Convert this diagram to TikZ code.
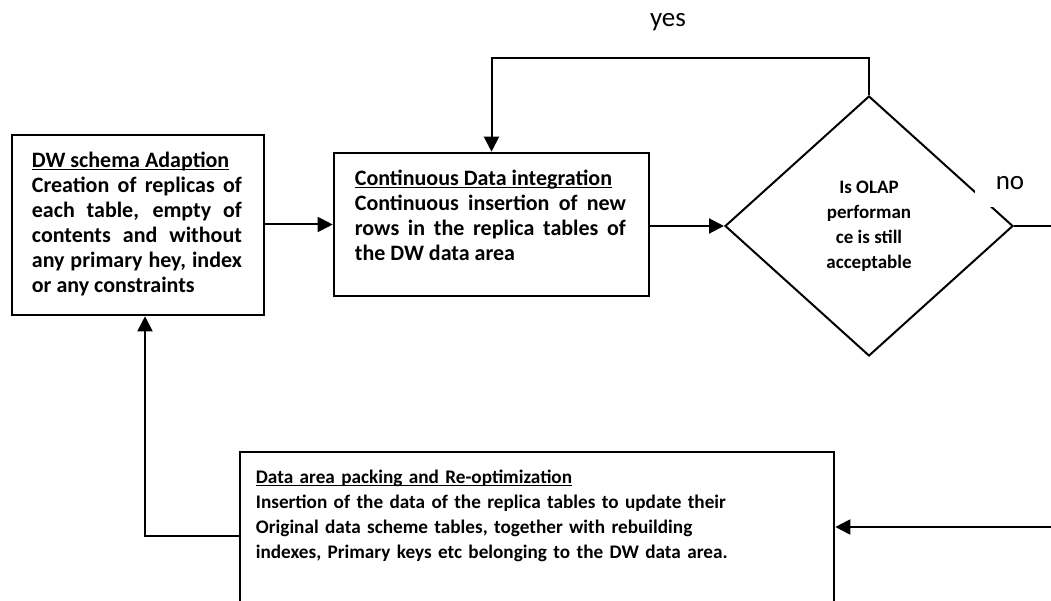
\documentclass[tikz,border=0pt]{standalone}
\usepackage{fontspec}
\setmainfont{Carlito}
\usetikzlibrary{shapes.geometric,arrows.meta}

\newcommand{\ulined}[1]{\setbox0\hbox{#1}\rlap{\rule[-3pt]{\wd0}{1.6pt}}\box0}

\tikzset{
  procbox/.style={draw=black, line width=2.6pt, rectangle, inner sep=0pt},
  boxtext/.style={anchor=north west, inner sep=0pt, align=justify, font=\fontsize{22}{25}\selectfont\bfseries},
  decision/.style={draw=black, line width=2pt, diamond, inner sep=0pt, align=center, font=\fontsize{19}{25}\selectfont\bfseries},
  flowline/.style={draw=black, line width=2pt},
  flowarrow/.style={flowline, -{Triangle[length=15pt,width=15pt]}},
  answer/.style={inner sep=0pt, font=\fontsize{27}{27}\selectfont}
}

\begin{document}
\begin{tikzpicture}[x=1pt,y=1pt]
      \useasboundingbox (0,0) rectangle (1051,-601);
      \clip (0,0) rectangle (1051,-601);
      \node[procbox, minimum width=252pt, minimum height=180pt] (adapt) at (138,-225) {};
      \node[boxtext, text width=210pt] (adapttxt) at ([xshift=21pt,yshift=-18pt]adapt.north west)
        {\ulined{DW schema Adaption}\\ Creation of replicas of\linebreak each table, empty of\linebreak contents and without\linebreak any primary hey, index\linebreak or any constraints};
      \node[procbox, minimum width=315pt, minimum height=143pt] (integ) at (491.5,-224.5) {};
      \node[boxtext, text width=271pt] (integtxt) at ([xshift=22pt,yshift=-18pt]integ.north west)
        {\ulined{Continuous Data integration}\\ Continuous insertion of new\linebreak rows in the replica tables of\linebreak the DW data area};
      \node[decision, minimum width=288pt, minimum height=260pt] (olap) at (869,-226)
        {Is OLAP\\ performan\\ ce is still\\ acceptable};
      \node[procbox, minimum width=594pt, minimum height=160pt] (pack) at (537,-532) {};
      \node[boxtext, align=left, text width=540pt, font=\fontsize{19.2}{25}\selectfont\bfseries] (packtxt) at ([xshift=17pt,yshift=-19pt]pack.north west)
        {\ulined{Data area packing and Re-optimization}\\ Insertion of the data of the replica tables to update their\\ Original data scheme tables, together with rebuilding\\ indexes, Primary keys etc belonging to the DW data area.};
      \node[answer] (yes) at (668,-22) {yes};
      \node[answer, fill=white, minimum width=70pt, minimum height=47pt] (no) at (1010,-183.5) {no};
      \coordinate (noend) at (1051,-226);
      \coordinate (backin) at (1051,-527);
      \draw[flowarrow] (adapt.east |- integ.west) -- (integ.west);
      \draw[flowarrow] (olap.west -| integ.east) -- (olap.west);
      \draw[flowarrow] (olap.north) -- ++(0,37) -| (integ.north);
      \draw[flowline] (olap.east) -- (noend);
      \draw[flowarrow] (backin) -- (backin -| pack.east);
      \draw[flowarrow] ([yshift=-4pt]pack.west) -| ([xshift=7pt]adapt.south);
    \end{tikzpicture}
\end{document}
